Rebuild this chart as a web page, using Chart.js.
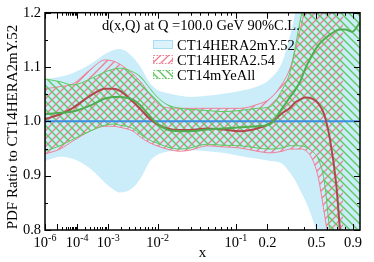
<!DOCTYPE html>
<html><head><meta charset="utf-8">
<script src="https://cdn.jsdelivr.net/npm/chart.js@4/dist/chart.umd.min.js"></script>
<style>html,body{margin:0;padding:0;background:#fff}</style>
</head><body>
<canvas id="c" width="374" height="262"></canvas>
<script>
// ---- data ----
const xValues = [1e-6, 1.45e-5, 6.7e-5, 3.0e-4, 8.2e-4, 1.32e-3, 1.92e-3, 3.6e-3, 5.05e-3, 7.5e-3, 0.0098, 0.014, 0.0217, 0.0296, 0.048, 0.073, 0.11, 0.161, 0.211, 0.268, 0.312, 0.343, 0.375, 0.41, 0.464, 0.515, 0.569, 0.629, 0.693, 0.738, 0.798, 0.889, 1.0];
const blueUpper = [1.078,1.082,1.089,1.105,1.124,1.131,1.133,1.118,1.100,1.070,1.058,1.052,1.047,1.045,1.047,1.051,1.056,1.064,1.078,1.109,1.158,1.200,1.255,1.330,1.40,1.40,1.40,1.40,1.40,1.40,1.40,1.40,1.40];
const blueLower = [0.927,0.935,0.931,0.913,0.887,0.875,0.869,0.878,0.895,0.927,0.938,0.944,0.947,0.947,0.945,0.942,0.936,0.931,0.927,0.922,0.905,0.891,0.873,0.855,0.822,0.782,0.70,0.62,0.60,0.60,0.60,0.60,0.60];
const blueCentralX = [1e-6, 1.0];
const blueCentral = [1.0, 1.0];

const pinkX = [1e-6, 1.45e-5, 6.7e-5, 3.0e-4, 8.2e-4, 1.32e-3, 1.92e-3, 3.6e-3, 5.05e-3, 7.5e-3, 0.0098, 0.014, 0.0217, 0.0296, 0.048, 0.073, 0.11, 0.161, 0.211, 0.268, 0.312, 0.343, 0.375, 0.41, 0.464, 0.515, 0.569, 0.629, 0.693, 0.738, 0.775];
const pinkUpper = [1.060,1.064,1.069,1.095,1.113,1.111,1.105,1.087,1.073,1.049,1.033,1.025,1.024,1.024,1.024,1.024,1.024,1.031,1.042,1.069,1.098,1.131,1.167,1.209,1.273,1.327,1.40,1.40,1.40,1.40,1.40];
const pinkLower = [0.940,0.949,0.964,0.982,0.991,0.991,0.989,0.982,0.971,0.960,0.955,0.949,0.945,0.947,0.955,0.953,0.951,0.945,0.942,0.945,0.949,0.949,0.949,0.947,0.931,0.897,0.833,0.760,0.691,0.618,0.60];
const redX = [1e-6, 1.45e-5, 6.7e-5, 3.0e-4, 8.2e-4, 1.32e-3, 1.92e-3, 3.6e-3, 5.05e-3, 7.5e-3, 0.0098, 0.014, 0.0217, 0.0296, 0.048, 0.073, 0.11, 0.161, 0.211, 0.268, 0.312, 0.343, 0.375, 0.41, 0.464, 0.515, 0.569, 0.629, 0.693, 0.738, 0.798];
const redCentral = [1.004,1.013,1.025,1.047,1.060,1.060,1.056,1.036,1.022,1.004,0.995,0.987,0.984,0.984,0.987,0.985,0.982,0.987,0.996,1.015,1.025,1.035,1.040,1.044,1.042,1.033,1.013,0.964,0.884,0.796,0.70];

const greenUpper = [1.078,1.073,1.067,1.078,1.091,1.096,1.098,1.091,1.082,1.060,1.045,1.031,1.024,1.022,1.020,1.018,1.020,1.024,1.027,1.058,1.091,1.136,1.185,1.227,1.291,1.40,1.40,1.40,1.40,1.40,1.40,1.40,1.40];
const greenLower = [0.945,0.955,0.967,0.982,0.993,0.995,0.993,0.987,0.976,0.965,0.960,0.953,0.949,0.951,0.958,0.956,0.955,0.951,0.949,0.951,0.955,0.955,0.955,0.953,0.945,0.931,0.891,0.790,0.700,0.640,0.550,0.500,0.500];
const greenCentral = [1.013,1.016,1.018,1.029,1.042,1.045,1.045,1.040,1.029,1.009,0.996,0.985,0.982,0.982,0.985,0.987,0.989,0.991,0.995,1.024,1.045,1.058,1.073,1.096,1.122,1.140,1.151,1.160,1.167,1.169,1.169,1.165,1.182];

const seriesNames = ['CT14HERA2mY.52', 'CT14HERA2.54', 'CT14mYeAll'];
const titleText = 'd(x,Q) at Q =100.0 GeV 90%C.L.';
const yTitle = 'PDF Ratio to CT14HERA2mY.52';
const xTitle = 'x';
const xTickValues = [1e-6, 1e-4, 1e-3, 1e-2, 0.1, 0.2, 0.5, 0.9];
const xTickLabels = ['10^-6', '10^-4', '10^-3', '10^-2', '10^-1', '0.2', '0.5', '0.9'];
const xMinorTicks = [1e-5, 2e-5,3e-5,4e-5,5e-5,6e-5,7e-5,8e-5,9e-5, 2e-4,3e-4,4e-4,5e-4,6e-4,7e-4,8e-4,9e-4, 2e-3,3e-3,4e-3,5e-3,6e-3,7e-3,8e-3,9e-3, 0.02,0.03,0.04,0.05,0.06,0.07,0.08,0.09, 0.3,0.4,0.6,0.7,0.8];
const yTickValues = [0.8, 0.9, 1.0, 1.1, 1.2];
const yMinorTicks = [0.85, 0.95, 1.05, 1.15];

// ---- axis transform: the plot's x axis is linear in x^0.2 ----
const T = x => Math.pow(x, 0.2);
const pts = (xs, ys) => xs.map((x, i) => ({x: T(x), y: ys[i]}));

const canvas = document.getElementById('c');
const ctx = canvas.getContext('2d');
const PINK = '#ef7f95', GREEN = '#5fc95f', BLUEFILL = '#cbedfa';
function hatch(color, dir) {
  const s = 8, c = document.createElement('canvas');
  c.width = s; c.height = s;
  const g = c.getContext('2d');
  g.strokeStyle = color; g.lineWidth = 1.4;
  g.beginPath();
  if (dir > 0) {
    g.moveTo(-1, s + 1); g.lineTo(s + 1, -1);
    g.moveTo(-2, 2); g.lineTo(2, -2);
    g.moveTo(s - 2, s + 2); g.lineTo(s + 2, s - 2);
  } else {
    g.moveTo(-1, -1); g.lineTo(s + 1, s + 1);
    g.moveTo(s - 2, -2); g.lineTo(s + 2, 2);
    g.moveTo(-2, s - 2); g.lineTo(2, s + 2);
  }
  g.stroke();
  return ctx.createPattern(c, 'repeat');
}
const pinkPat = hatch(PINK, 1);
const greenPat = hatch(GREEN, -1);

const line = (data, color, w) => ({data, borderColor: color, borderWidth: w, fill: false, pointRadius: 0, cubicInterpolationMode: 'monotone'});
const band = (data, color, bg) => ({data, borderColor: color, borderWidth: 1, fill: '+1', backgroundColor: bg, pointRadius: 0, cubicInterpolationMode: 'monotone'});

const datasets = [
  line(pts(xValues, greenCentral), '#4fae4f', 2),
  line(pts(redX, redCentral), '#b3474c', 2),
  line(pts(blueCentralX, blueCentral), '#3d8fe3', 2),
  band(pts(xValues, greenUpper), GREEN, greenPat),
  line(pts(xValues, greenLower), GREEN, 1),
  band(pts(pinkX, pinkUpper), PINK, pinkPat),
  line(pts(pinkX, pinkLower), PINK, 1),
  {...band(pts(xValues, blueUpper), 'rgba(0,0,0,0)', BLUEFILL), borderWidth: 0},
  {...line(pts(xValues, blueLower), 'rgba(0,0,0,0)', 0)}
];

const SERIF = '"Liberation Serif", "Times New Roman", serif';

const deco = {
  id: 'deco',
  afterDatasetsDraw(chart) {
    const c = chart.ctx, a = chart.chartArea, xs = chart.scales.x, ys = chart.scales.y;
    c.save();
    c.strokeStyle = '#000'; c.lineWidth = 1.5;
    c.strokeRect(a.left, a.top, a.right - a.left, a.bottom - a.top);
    c.lineWidth = 1;
    c.beginPath();
    const vt = (v, len) => { const p = Math.round(xs.getPixelForValue(T(v))) + 0.5; c.moveTo(p, a.bottom); c.lineTo(p, a.bottom - len); c.moveTo(p, a.top); c.lineTo(p, a.top + len); };
    const ht = (v, len) => { const p = Math.round(ys.getPixelForValue(v)) + 0.5; c.moveTo(a.left, p); c.lineTo(a.left + len, p); c.moveTo(a.right, p); c.lineTo(a.right - len, p); };
    xTickValues.forEach(v => vt(v, 6));
    xMinorTicks.forEach(v => vt(v, v === 1e-5 ? 6 : 3));
    yTickValues.forEach(v => ht(v, 6));
    yMinorTicks.forEach(v => ht(v, 3));
    c.stroke();
    c.fillStyle = '#000'; c.textBaseline = 'alphabetic';
    xTickValues.forEach((v, i) => {
      const p = xs.getPixelForValue(T(v));
      const parts = xTickLabels[i].split('^');
      c.font = '14.5px ' + SERIF;
      const w1 = c.measureText(parts[0]).width;
      let w2 = 0;
      if (parts[1]) { c.font = '10px ' + SERIF; w2 = c.measureText(parts[1]).width; }
      const x0 = p - (w1 + w2) / 2;
      c.font = '14.5px ' + SERIF; c.textAlign = 'left';
      c.fillText(parts[0], x0, 247);
      if (parts[1]) { c.font = '10px ' + SERIF; c.fillText(parts[1], x0 + w1, 241); }
    });
    c.font = '15px ' + SERIF; c.textAlign = 'center';
    c.fillText(xTitle, (a.left + a.right) / 2, 257);
    c.save();
    c.translate(17, 127); c.rotate(-Math.PI / 2);
    c.fillText(yTitle, 0, 0);
    c.restore();
    c.font = '14.5px ' + SERIF; c.textAlign = 'left';
    c.fillText(titleText, 102, 29.5);
    const rows = [49.5, 64.5, 79.5];
    const fills = ['#dcf3fc', pinkPat, greenPat];
    const strokes = ['#a9dcf2', PINK, GREEN];
    rows.forEach((b, i) => {
      c.fillStyle = '#fff';
      c.fillRect(153, b - 9.5, 20, 8.5);
      c.fillStyle = fills[i];
      c.fillRect(153, b - 9.5, 20, 8.5);
      c.strokeStyle = strokes[i]; c.lineWidth = 1;
      if (i > 0) c.setLineDash([1.5, 1.5]);
      c.strokeRect(153.5, b - 9, 19, 8);
      c.setLineDash([]);
      c.fillStyle = '#000';
      c.fillText(seriesNames[i], 177, b);
    });
    c.restore();
  }
};

new Chart(ctx, {
  type: 'line',
  data: {datasets},
  options: {
    responsive: false, animation: false, devicePixelRatio: 1,
    layout: {padding: {left: 0, right: 14, top: 10, bottom: 32}},
    plugins: {legend: {display: false}, tooltip: {enabled: false}},
    scales: {
      x: {type: 'linear', display: false, min: T(1e-6), max: 1},
      y: {
        type: 'linear', min: 0.8, max: 1.2,
        grid: {display: false, drawTicks: false}, border: {display: false},
        ticks: {stepSize: 0.1, padding: 4, color: '#000', font: {family: SERIF, size: 14.5}, callback: v => v.toFixed(1)},
        afterFit: s => { s.width = 45; }
      }
    }
  },
  plugins: [deco]
});
</script>
</body></html>
